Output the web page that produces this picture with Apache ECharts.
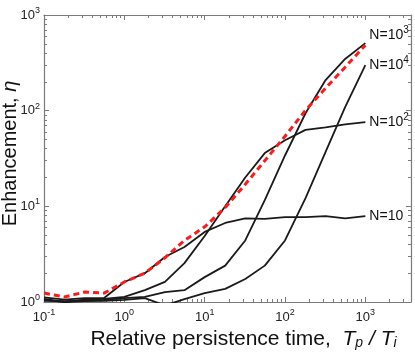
<!DOCTYPE html>
<html>
<head>
<meta charset="utf-8">
<script src="https://cdn.jsdelivr.net/npm/echarts@6/dist/echarts.min.js"></script>
<style>
  html, body { margin: 0; padding: 0; background: #fff; }
  #enhChart { width: 415px; height: 354px; }
</style>
</head>
<body>
<div id="enhChart"></div>
<script>
// relative persistence time Tp/Ti
var tRatio = [0.1, 0.18, 0.32, 0.56, 1, 1.8, 3.2, 5.6, 10, 18, 32, 56, 100, 180, 320, 560, 1000]
// enhancement eta, one list per N
var etaN10 = [1.12, 1.06, 1.1, 1.1, 1.62, 2.0, 2.95, 3.76, 5.4, 6.7, 7.5, 7.4, 7.7, 7.7, 7.9, 7.5, 7.9]
var etaN100 = [1.05, 1.0, 1.06, 1.08, 1.13, 1.33, 1.62, 2.55, 4.9, 10, 20, 36, 49, 63, 67, 72, 76]
var etaN1000 = [1.03, 1.02, 1.04, 1.05, 1.1, 1.13, 1.27, 1.33, 1.82, 2.4, 4.4, 11.6, 34, 94, 209, 347, 508]
var etaN10000 = [1.08, 1.0, 1.02, 1.03, 1.05, 1.1, 0.92, 1.07, 1.24, 1.37, 1.74, 2.4, 4.4, 12.2, 37, 109, 300]
var etaDashed = [1.24, 1.13, 1.27, 1.24, 1.62, 2.0, 2.9, 4.4, 6.1, 9.7, 17, 30, 54, 101, 172, 285, 484]

var xMajor = [0.1, 1, 10, 100, 1000]
var yMajor = [1, 10, 100, 1000]

function minorsOf(lo, hi) {
  var out = []
  for (var d = lo; d < hi; d *= 10) {
    for (var k = 2; k <= 9; k++) out.push(+(d * k).toPrecision(3))
  }
  return out
}
var xMinor = minorsOf(0.1, 10000)
var yMinor = minorsOf(1, 1000)

function pair(ys) {
  return tRatio.map(function (t, i) { return [t, ys[i]] })
}

var supRich = {
  b: { fontSize: 13, color: '#222', fontFamily: 'Liberation Sans' },
  sup: { fontSize: 9, color: '#222', fontFamily: 'Liberation Sans', padding: [0, 0, 9, 0] }
}
function powLabel(v) {
  var e = Math.log10(v)
  if (Math.abs(e - Math.round(e)) > 1e-6) return ''
  return '{b|10}{sup|' + Math.round(e) + '}'
}

var gray = '#7a7a7a'
function logAxis(extra) {
  var base = {
    type: 'log',
    logBase: 10,
    axisLine: { show: true, lineStyle: { color: gray, width: 1.2 } },
    axisTick: { show: true, inside: true, length: 5, lineStyle: { color: gray } },
    axisLabel: { show: false },
    splitLine: { show: false },
    minorTick: { show: false }
  }
  return Object.assign(base, extra)
}

var xRange = { min: 0.1, max: 3700 }
var yRange = { min: 1, max: 1000 }

var xAxes = [
  logAxis(Object.assign({
    position: 'bottom',
    axisTick: { show: true, inside: true, length: 5, lineStyle: { color: gray }, customValues: xMajor },
    axisLabel: { show: true, margin: 6, customValues: xMajor, formatter: powLabel, rich: supRich },
    name: 'Relative persistence time,  {i|T}{s|p}{i| / T}{s|i}',
    nameLocation: 'middle',
    nameGap: 25,
    nameTextStyle: {
      fontSize: 21, color: '#111', fontFamily: 'Liberation Sans', padding: [0, 0, 0, 32],
      rich: {
        i: { fontSize: 21, fontStyle: 'italic', color: '#111', fontFamily: 'Liberation Sans' },
        s: { fontSize: 14, fontStyle: 'italic', color: '#111', fontFamily: 'Liberation Sans', padding: [9, 0, 0, 0] }
      }
    }
  }, xRange)),
  logAxis(Object.assign({
    position: 'bottom',
    axisLine: { show: false },
    axisTick: { show: true, inside: true, length: 3, lineStyle: { color: gray }, customValues: xMinor }
  }, xRange)),
  logAxis(Object.assign({
    position: 'top',
    axisTick: { show: true, inside: true, length: 5, lineStyle: { color: gray }, customValues: xMajor }
  }, xRange)),
  logAxis(Object.assign({
    position: 'top',
    axisLine: { show: false },
    axisTick: { show: true, inside: true, length: 3, lineStyle: { color: gray }, customValues: xMinor }
  }, xRange))
]

var yAxes = [
  logAxis(Object.assign({
    position: 'left',
    axisTick: { show: true, inside: true, length: 5, lineStyle: { color: gray }, customValues: yMajor },
    axisLabel: { show: true, margin: 4, customValues: yMajor, formatter: powLabel, rich: supRich },
    name: 'Enhancement, {i|η}',
    nameLocation: 'middle',
    nameGap: 24,
    nameMoveOverlap: false,
    nameTextStyle: {
      fontSize: 20, color: '#111', fontFamily: 'Liberation Sans', padding: [0, 0, 0, 10],
      rich: { i: { fontSize: 20, fontStyle: 'italic', color: '#111', fontFamily: 'Liberation Sans' } }
    }
  }, yRange)),
  logAxis(Object.assign({
    position: 'left',
    axisLine: { show: false },
    axisTick: { show: true, inside: true, length: 3, lineStyle: { color: gray }, customValues: yMinor }
  }, yRange)),
  logAxis(Object.assign({
    position: 'right',
    axisTick: { show: true, inside: true, length: 5, lineStyle: { color: gray }, customValues: yMajor }
  }, yRange)),
  logAxis(Object.assign({
    position: 'right',
    axisLine: { show: false },
    axisTick: { show: true, inside: true, length: 3, lineStyle: { color: gray }, customValues: yMinor }
  }, yRange))
]

var endRich = {
  b: { fontSize: 14, color: '#111', fontFamily: 'Liberation Sans' },
  sup: { fontSize: 10, color: '#111', fontFamily: 'Liberation Sans', padding: [0, 0, 9, 0] }
}
function nSeries(name, ys, label, offset) {
  return {
    name: name,
    type: 'line',
    data: pair(ys),
    symbol: 'none',
    clip: true,
    lineStyle: { color: '#1a1a1a', width: 1.8 },
    endLabel: {
      show: true,
      formatter: label,
      distance: 4,
      offset: offset || [0, 0],
      rich: endRich
    },
    z: 2
  }
}

var chart = echarts.init(document.getElementById('enhChart'))
chart.setOption({
  animation: false,
  grid: { left: 44, right: 4, top: 15, bottom: 52, outerBoundsMode: 'none' },
  xAxis: xAxes,
  yAxis: yAxes,
  series: [
    nSeries('N=10', etaN10, '{b|N=10}'),
    nSeries('N=100', etaN100, '{b|N=10}{sup|2}'),
    nSeries('N=1000', etaN1000, '{b|N=10}{sup|3}', [0, -8]),
    nSeries('N=10000', etaN10000, '{b|N=10}{sup|4}'),
    {
      name: 'dashed',
      type: 'line',
      data: pair(etaDashed),
      symbol: 'none',
      clip: true,
      lineStyle: { color: '#ff1a1a', width: 3, type: [6, 4] },
      z: 3
    }
  ]
})
</script>
</body>
</html>
